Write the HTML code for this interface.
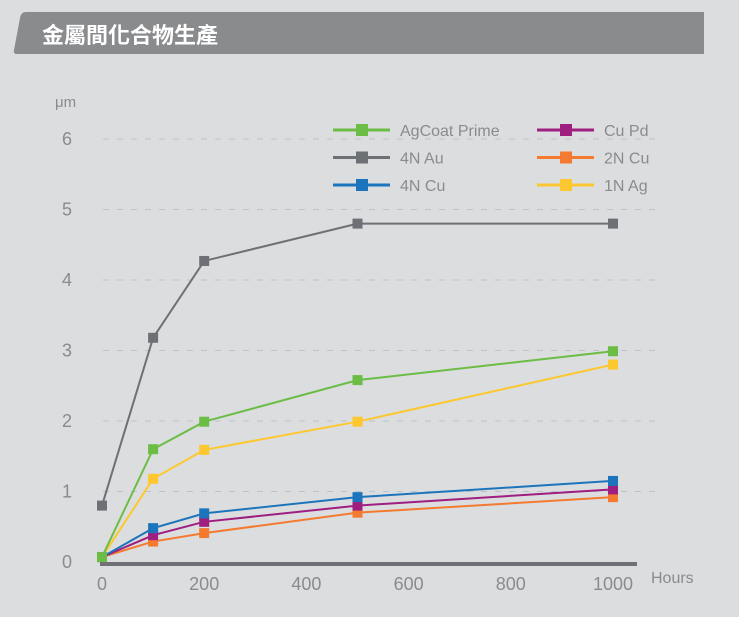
<!DOCTYPE html>
<html><head><meta charset="utf-8"><style>
body{margin:0;background:#dcdddf;width:739px;height:612px;overflow:hidden;font-family:"Liberation Sans","Noto Sans CJK TC",sans-serif}
</style></head><body>
<svg width="739" height="612" xmlns="http://www.w3.org/2000/svg">
<path d="M24,12 L704,12 L704,54 L17,54 Q13,54 14,50 L20,18 Q21,12 26,12Z" fill="#8a8b8d"/>
<text x="42" y="43" font-size="22" font-weight="bold" fill="#fff" font-family="'Noto Sans CJK TC',sans-serif">金屬間化合物生產</text>
<text x="55" y="107" font-size="15" fill="#8a8b8d">μm</text>
<text x="651" y="583" font-size="16" fill="#8a8b8d">Hours</text>
<g id="grid"></g><g id="axes"></g><g id="series"></g>
<g font-size="16" fill="#8a8b8d" id="legend"></g>
</svg>
<script>
const xValues=[0,100,200,500,1000];
const xTicks=[0,200,400,600,800,1000];
const yTicks=[0,1,2,3,4,5,6];
const seriesNames=["AgCoat Prime","4N Au","4N Cu","Cu Pd","2N Cu","1N Ag"];
const seriesColors=["#6cbd45","#6d7075","#1c75bc","#9e1f80","#f47a30","#fdc82f"];
const agcoat=[0.07,1.6,1.99,2.58,2.99];
const au4n=[0.8,3.18,4.27,4.8,4.8];
const cu4n=[0.07,0.48,0.69,0.92,1.15];
const cupd=[0.07,0.38,0.57,0.8,1.03];
const cu2n=[0.07,0.29,0.41,0.7,0.92];
const ag1n=[0.07,1.18,1.59,1.99,2.8];
const seriesValues=[agcoat,au4n,cu4n,cupd,cu2n,ag1n];
const NS="http://www.w3.org/2000/svg";
const X=v=>102+v*0.511, Y=v=>562-v*70.5;
function mk(t,a,p){const e=document.createElementNS(NS,t);for(const k in a)e.setAttribute(k,a[k]);p.appendChild(e);return e;}
const grid=document.getElementById('grid'),axes=document.getElementById('axes'),ser=document.getElementById('series'),leg=document.getElementById('legend');
yTicks.forEach(t=>{
 if(t>0){const l=mk('line',{x1:103,x2:660,y1:Y(t),y2:Y(t),stroke:'#b9c3cf','stroke-width':1,'stroke-dasharray':'6,8'},grid);
 
 }
 const tx=mk('text',{x:67,y:Y(t)+6,'font-size':18,fill:'#8a8b8d','text-anchor':'middle'},axes);tx.textContent=t;
 
 
});
const ax=mk('line',{x1:100,x2:637,y1:564,y2:564,stroke:'#6d7075','stroke-width':4},axes);


xTicks.forEach(t=>{const tx=mk('text',{x:X(t),y:590,'font-size':18,fill:'#8a8b8d','text-anchor':'middle'},axes);tx.textContent=t;
 
 });
const order=[5,4,3,2,0,1];
order.forEach(i=>{
 const vals=seriesValues[i],c=seriesColors[i];
 const g=mk('g',{},ser);
 
 
 mk('polyline',{points:vals.map((v,j)=>X(xValues[j])+','+Y(v)).join(' '),fill:'none',stroke:c,'stroke-width':2},g);
 vals.forEach((v,j)=>{const r=mk('rect',{x:X(xValues[j])-5,y:Y(v)-5,width:10,height:10,fill:c},g);
  
  });
});
seriesNames.forEach((n,i)=>{
 const col=i<3?0:1,row=i%3,lx=col?537:333,ly=130+row*27.5;
 const g=mk('g',{},leg);
 
 
 mk('line',{x1:lx,x2:lx+57,y1:ly,y2:ly,stroke:seriesColors[i],'stroke-width':3},g);
 mk('rect',{x:lx+23,y:ly-6,width:12,height:12,fill:seriesColors[i]},g);
 const t=mk('text',{x:lx+67,y:ly+6},g);t.textContent=n;
});
</script>
</body></html>
